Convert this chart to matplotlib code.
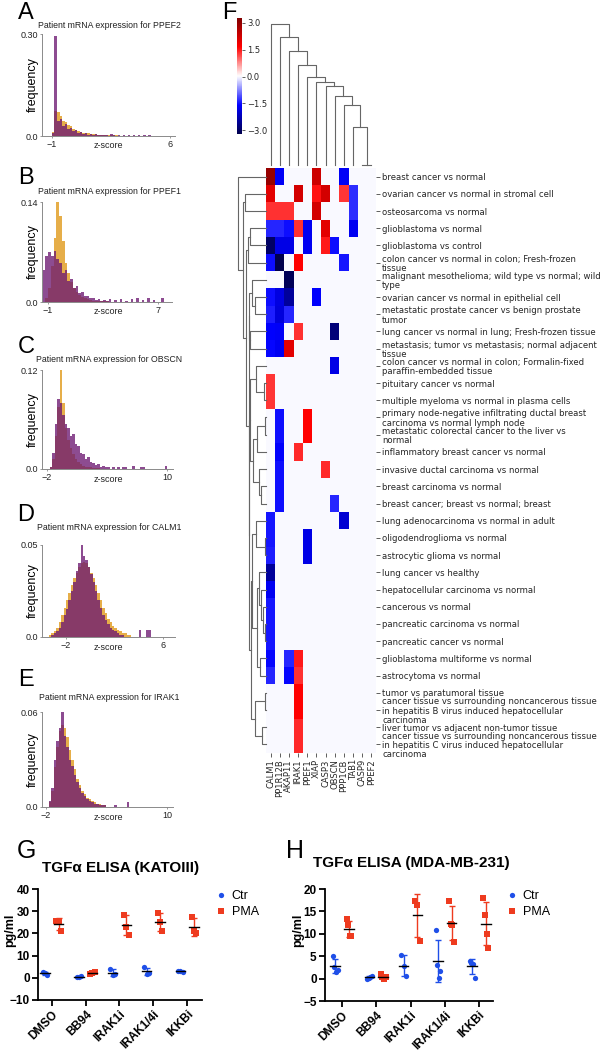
import numpy as np
import matplotlib.pyplot as plt

# ---------------- data ----------------
# A-E: patient mRNA z-score histograms (orange = normal, purple = tumour)
ppef2_start, ppef2_width = -1.0, 0.15
ppef2_orange = [0.012, 0.075, 0.07, 0.06, 0.045, 0.04, 0.032, 0.028, 0.022, 0.018,
                0.015, 0.012, 0.01, 0.009, 0.008, 0.007, 0.006, 0.005, 0.004, 0.004,
                0.003, 0.003, 0.002, 0.002, 0.002, 0.002, 0.001, 0.001, 0.001, 0.001,
                0.001, 0.001, 0, 0, 0, 0, 0, 0, 0, 0]
ppef2_purple = [0.01, 0.294, 0.045, 0.05, 0.03, 0.035, 0.02, 0.025, 0.015, 0.018,
                0.01, 0.012, 0.006, 0.008, 0.004, 0.005, 0.003, 0.006, 0.002, 0.003,
                0.004, 0.002, 0, 0.005, 0.003, 0, 0.002, 0, 0.004, 0,
                0.002, 0, 0.003, 0, 0.002, 0, 0.003, 0, 0.002, 0]

ppef1_start, ppef1_width = -1.4, 0.2
ppef1_orange = [0, 0.005, 0.02, 0.05, 0.09, 0.14, 0.12, 0.085, 0.055, 0.04,
                0.028, 0.02, 0.014, 0.01, 0.007, 0.005, 0.004, 0.003, 0.002, 0.002,
                0.001, 0.001, 0.001, 0.001, 0, 0, 0, 0, 0, 0,
                0, 0, 0, 0, 0, 0, 0, 0, 0, 0, 0, 0, 0, 0, 0]
ppef1_purple = [0.045, 0.065, 0.07, 0.065, 0.072, 0.06, 0.055, 0.04, 0.045, 0.03,
                0.032, 0.02, 0.022, 0.012, 0.014, 0.008, 0.009, 0.005, 0.006, 0.003,
                0.004, 0.002, 0.003, 0.002, 0.004, 0, 0.003, 0, 0.004, 0,
                0.002, 0, 0.004, 0, 0.005, 0, 0.003, 0, 0.006, 0, 0.003, 0, 0, 0.005, 0]

obscn_start, obscn_width = -2.0, 0.25
obscn_orange = [0, 0.003, 0.012, 0.04, 0.075, 0.12, 0.08, 0.05, 0.035, 0.025,
                0.018, 0.012, 0.008, 0.006, 0.004, 0.003, 0.002, 0.002, 0.001, 0.001,
                0.001, 0, 0, 0, 0, 0, 0, 0, 0, 0,
                0, 0, 0, 0, 0, 0, 0, 0, 0, 0, 0, 0, 0, 0, 0, 0, 0, 0]
obscn_purple = [0, 0.002, 0.02, 0.055, 0.085, 0.08, 0.065, 0.055, 0.05, 0.04,
                0.042, 0.03, 0.028, 0.02, 0.018, 0.012, 0.014, 0.008, 0.007, 0.005,
                0.006, 0.003, 0.004, 0.002, 0.003, 0, 0.002, 0, 0.002, 0,
                0.002, 0.002, 0, 0, 0.004, 0, 0, 0.003, 0.002, 0,
                0, 0, 0, 0, 0, 0, 0, 0.004]

calm1_start, calm1_width = -3.4, 0.2
calm1_orange = [0.001, 0.002, 0.003, 0.005, 0.008, 0.012, 0.016, 0.02, 0.024, 0.028,
                0.032, 0.035, 0.038, 0.04, 0.041, 0.04, 0.038, 0.035, 0.032, 0.028,
                0.024, 0.02, 0.016, 0.013, 0.01, 0.008, 0.006, 0.005, 0.004, 0.003,
                0.002, 0.002, 0.001, 0.001, 0, 0, 0, 0, 0, 0, 0, 0, 0, 0, 0]
calm1_purple = [0, 0.001, 0.002, 0.003, 0.005, 0.008, 0.012, 0.015, 0.02, 0.025,
                0.03, 0.036, 0.04, 0.05, 0.044, 0.042, 0.038, 0.034, 0.03, 0.025,
                0.02, 0.016, 0.012, 0.009, 0.007, 0.005, 0.004, 0.003, 0.002, 0.001,
                0.001, 0, 0, 0, 0, 0, 0, 0.004, 0, 0, 0.004, 0.004, 0, 0, 0]

irak1_start, irak1_width = -2.0, 0.25
irak1_orange = [0, 0.003, 0.01, 0.025, 0.038, 0.048, 0.052, 0.05, 0.044, 0.036,
                0.03, 0.024, 0.018, 0.014, 0.01, 0.008, 0.006, 0.005, 0.004, 0.003,
                0.002, 0.002, 0.001, 0.001, 0, 0, 0, 0, 0, 0,
                0, 0, 0, 0, 0, 0, 0, 0, 0, 0]
irak1_purple = [0, 0.004, 0.012, 0.03, 0.042, 0.05, 0.061, 0.045, 0.038, 0.03,
                0.026, 0.02, 0.016, 0.012, 0.009, 0.007, 0.005, 0.004, 0.003, 0.002,
                0.002, 0.001, 0.001, 0.001, 0, 0, 0, 0.001, 0, 0,
                0, 0, 0.003, 0, 0, 0, 0, 0, 0, 0]

# F: heatmap
genes = ['CALM1', 'PP1R12B', 'AKAP11', 'IRAK1', 'PPEF1', 'XIAP', 'CASP3',
         'OBSCN', 'PPP1CB', 'TAB1', 'CASP9', 'PPEF2']
comparisons = [
    'breast cancer vs normal',
    'ovarian cancer vs normal in stromal cell',
    'osteosarcoma vs normal',
    'glioblastoma vs normal',
    'glioblastoma vs control',
    'colon cancer vs normal in colon; Fresh-frozen\ntissue',
    'malignant mesothelioma; wild type vs normal; wild\ntype',
    'ovarian cancer vs normal in epithelial cell',
    'metastatic prostate cancer vs benign prostate\ntumor',
    'lung cancer vs normal in lung; Fresh-frozen tissue',
    'metastasis; tumor vs metastasis; normal adjacent\ntissue',
    'colon cancer vs normal in colon; Formalin-fixed\nparaffin-embedded tissue',
    'pituitary cancer vs normal',
    'multiple myeloma vs normal in plasma cells',
    'primary node-negative infiltrating ductal breast\ncarcinoma vs normal lymph node',
    'metastatic colorectal cancer to the liver vs\nnormal',
    'inflammatory breast cancer vs normal',
    'invasive ductal carcinoma vs normal',
    'breast carcinoma vs normal',
    'breast cancer; breast vs normal; breast',
    'lung adenocarcinoma vs normal in adult',
    'oligodendroglioma vs normal',
    'astrocytic glioma vs normal',
    'lung cancer vs healthy',
    'hepatocellular carcinoma vs normal',
    'cancerous vs normal',
    'pancreatic carcinoma vs normal',
    'pancreatic cancer vs normal',
    'glioblastoma multiforme vs normal',
    'astrocytoma vs normal',
    'tumor vs paratumoral tissue',
    'cancer tissue vs surrounding noncancerous tissue\nin hepatitis B virus induced hepatocellular\ncarcinoma',
    'liver tumor vs adjacent non-tumor tissue',
    'cancer tissue vs surrounding noncancerous tissue\nin hepatitis C virus induced hepatocellular\ncarcinoma',
]
zscores = [
    [3.0, -1.65, 0, 0, 0, 2.3, 0, 0, -1.65, 0, 0, 0],
    [2.0, 0, 0, 2.2, 0, 1.55, 2.2, 0, 1.3, -1.3, 0, 0],
    [1.35, 1.35, 1.35, 0, 0, 2.2, 0, 0, 0, -1.3, 0, 0],
    [-1.35, -1.35, -1.5, 1.35, -1.7, 0, 2.0, 0, 0, -1.7, 0, 0],
    [-3.0, -1.8, -1.8, 0, -1.7, 0, 1.5, -1.5, 0, 0, 0, 0],
    [-1.5, -3.2, 0, 1.65, 0, 0, 0, 0, -1.45, 0, 0, 0],
    [0, 0, -3.1, 0, 0, 0, 0, 0, 0, 0, 0, 0],
    [-1.5, -1.85, -2.5, 0, 0, -1.6, 0, 0, 0, 0, 0, 0],
    [-1.4, -1.9, -1.35, 0, 0, 0, 0, 0, 0, 0, 0, 0],
    [-1.6, -1.65, 0, 1.35, 0, 0, 0, -2.8, 0, 0, 0, 0],
    [-1.55, -1.7, 2.0, 0, 0, 0, 0, 0, 0, 0, 0, 0],
    [0, 0, 0, 0, 0, 0, 0, -1.8, 0, 0, 0, 0],
    [1.3, 0, 0, 0, 0, 0, 0, 0, 0, 0, 0, 0],
    [1.3, 0, 0, 0, 0, 0, 0, 0, 0, 0, 0, 0],
    [0, -1.5, 0, 0, 1.65, 0, 0, 0, 0, 0, 0, 0],
    [0, -1.5, 0, 0, 1.65, 0, 0, 0, 0, 0, 0, 0],
    [0, -1.6, 0, 1.4, 0, 0, 0, 0, 0, 0, 0, 0],
    [0, -1.5, 0, 0, 0, 0, 1.4, 0, 0, 0, 0, 0],
    [0, -1.5, 0, 0, 0, 0, 0, 0, 0, 0, 0, 0],
    [0, -1.5, 0, 0, 0, 0, 0, -1.35, 0, 0, 0, 0],
    [-1.45, 0, 0, 0, 0, 0, 0, 0, -2.0, 0, 0, 0],
    [-1.45, 0, 0, 0, -1.8, 0, 0, 0, 0, 0, 0, 0],
    [-1.4, 0, 0, 0, -1.8, 0, 0, 0, 0, 0, 0, 0],
    [-2.5, 0, 0, 0, 0, 0, 0, 0, 0, 0, 0, 0],
    [-1.7, 0, 0, 0, 0, 0, 0, 0, 0, 0, 0, 0],
    [-1.45, 0, 0, 0, 0, 0, 0, 0, 0, 0, 0, 0],
    [-1.45, 0, 0, 0, 0, 0, 0, 0, 0, 0, 0, 0],
    [-1.45, 0, 0, 0, 0, 0, 0, 0, 0, 0, 0, 0],
    [-1.55, 0, -1.35, 1.5, 0, 0, 0, 0, 0, 0, 0, 0],
    [-1.35, 0, -1.55, 1.35, 0, 0, 0, 0, 0, 0, 0, 0],
    [0, 0, 0, 1.65, 0, 0, 0, 0, 0, 0, 0, 0],
    [0, 0, 0, 1.65, 0, 0, 0, 0, 0, 0, 0, 0],
    [0, 0, 0, 1.4, 0, 0, 0, 0, 0, 0, 0, 0],
    [0, 0, 0, 1.4, 0, 0, 0, 0, 0, 0, 0, 0],
]
# dendrograms as nested (height, left, right); ints are leaf indices
gene_tree = (140.7, 0, (127.3, 1, (113.3, 2, (100, 3, (87.7, 4, (82.7, 5, (79, 6,
             (69.3, 7, (60, 8, (38.3, 9, (0, 10, 11)))))))))))
row_tree = (27.7, 0,
            (22.7, (21, 1, 2),
             (19.3, (17.7, (16, 3, 4), 5),
              (17.2, (16.5, (14.3, 6, (11, 7, 8)), (16, 9, 10)),
               (16.8, (15.5, (10, 11, (2, 12, 13)),
                       (12.5, (9, (0.5, 14, 15), 16), (7, 17, (5, 18, 19)))),
                (15.0, (13.5, (10, 20, (0.5, 21, 22)),
                        (9, (7, 23, (5, 24, (3, 25, (0.5, 26, 27)))), (6, 28, 29))),
                 (11, (0.5, 30, 31), (4, 32, 33))))))))

# G/H: TGFa ELISA (pg/ml)
treatments = ['DMSO', 'BB94', 'IRAK1i', 'IRAK1/4i', 'IKKBi']
kato_ctr = [[2.6, 2.1, 1.4], [0.2, 0.5, 0.8], [4.0, 1.2, 1.5], [4.8, 1.8, 2.0], [3.0, 3.0, 2.8]]
kato_pma = [[25.6, 25.6, 21.0], [1.8, 2.2, 2.8], [28.5, 23.0, 19.5], [29.0, 25.0, 21.0], [27.6, 21.0, 20.2]]
mda_ctr = [[5.0, 2.5, 1.5, 2.0], [0.0, 0.2, 0.4, 0.6], [5.2, 2.8, 0.5], [10.8, 3.0, 0.2, 1.8], [4.0, 3.5, 3.2, 0.2]]
mda_pma = [[13.2, 12.0, 9.5, 9.5], [1.0, 0.3, 0.0, 0.3], [17.3, 16.5, 8.5], [17.4, 12.2, 11.9, 8.1], [18.0, 14.1, 10.0, 6.9]]

# ---------------- figure ----------------
W, H = 608, 1050
fig = plt.figure(figsize=(W / 100, H / 100), dpi=100)
helv = 'Liberation Sans'


def box(l, r, t, b):
    return [l / W, 1 - b / H, (r - l) / W, (b - t) / H]


def ftext(x, y, s, **kw):
    return fig.text(x / W, 1 - y / H, s, **kw)


orange, purple = '#e4a535', '#6d1a72'
hists = [
    ('A', 'PPEF2', ppef2_orange, ppef2_purple, ppef2_start, ppef2_width, (-1.59, 6.3), [-1, 6], 0.30, '0.30', (42, 175, 34, 136), 13, 25),
    ('B', 'PPEF1', ppef1_orange, ppef1_purple, ppef1_start, ppef1_width, (-1.44, 8.0), [-1, 7], 0.14, '0.14', (42, 172, 202, 302), 178, 192),
    ('C', 'OBSCN', obscn_orange, obscn_purple, obscn_start, obscn_width, (-2.5, 10.6), [-2, 10], 0.12, '0.12', (42, 173, 370, 469), 347, 360),
    ('D', 'CALM1', calm1_orange, calm1_purple, calm1_start, calm1_width, (-3.98, 7.0), [-2, 6], 0.05, '0.05', (42, 175, 545, 637), 515, 528),
    ('E', 'IRAK1', irak1_orange, irak1_purple, irak1_start, irak1_width, (-2.4, 10.6), [-2, 10], 0.06, '0.06', (42, 173, 712, 807), 680, 697),
]
for letter, gene, o, p, x0, w, xl, xt, ytop, ylab, bx, ly, ty in hists:
    ax = fig.add_axes(box(*bx))
    edges = x0 + w * np.arange(len(o))
    ax.bar(edges, o, width=w, align='edge', color=orange, alpha=0.9, linewidth=0)
    ax.bar(edges, p, width=w, align='edge', color=purple, alpha=0.78, linewidth=0)
    ax.set_xlim(*xl)
    ax.set_ylim(0, ytop)
    ax.set_xticks(xt)
    ax.set_yticks([0, ytop])
    ax.set_yticklabels(['0.0', ylab])
    for s in ('top', 'right'):
        ax.spines[s].set_visible(False)
    for s in ('left', 'bottom'):
        ax.spines[s].set_color('#8a8a8a')
        ax.spines[s].set_linewidth(0.7)
    ax.tick_params(labelsize=6.5, length=1.5, width=0.6, pad=1.5, colors='#8a8a8a', labelcolor='#222222')
    for t in ax.get_xticklabels() + ax.get_yticklabels():
        t.set_fontfamily(helv)
    ftext(26, ly, letter, fontsize=17, family=helv, ha='center', va='center')
    ftext(109, ty, 'Patient mRNA expression for ' + gene, fontsize=6.3, family=helv, ha='center', va='center', color='#222222')
    ftext(33, (bx[2] + bx[3]) / 2, 'frequency', fontsize=9, family=helv, rotation=90, ha='center', va='center')
    ftext(108, bx[3] + 10, 'z-score', fontsize=6.5, family=helv, ha='center', va='center', color='#222222')


# ---- F: clustered heatmap ----
def dendro(node, segs):
    if isinstance(node, int):
        return node + 0.5, 0.0
    h, a, b = node
    pa, ha = dendro(a, segs)
    pb, hb = dendro(b, segs)
    segs.append(([pa, pa, pb, pb], [ha, h, h, hb]))
    return (pa + pb) / 2, h


mat = np.array(zscores)
vmin, vmax = -3.22, 3.28
axh = fig.add_axes(box(266, 376, 168, 753))
mesh = axh.pcolormesh(np.arange(len(genes) + 1), np.arange(len(comparisons) + 1), mat,
                      cmap='seismic', vmin=vmin, vmax=vmax)
axh.set_xlim(0, len(genes))
axh.set_ylim(len(comparisons), 0)
for s in axh.spines.values():
    s.set_visible(False)
axh.yaxis.tick_right()
axh.set_yticks(np.arange(len(comparisons)) + 0.5)
axh.set_yticklabels(comparisons, fontsize=6.1, color='#262626', family='DejaVu Sans', linespacing=1.05)
axh.set_xticks(np.arange(len(genes)) + 0.5)
axh.set_xticklabels(genes, fontsize=6, color='#262626', rotation=90, family='DejaVu Sans')
axh.tick_params(length=3, width=0.6, color='#444444', pad=1.5)

axc = fig.add_axes(box(266, 376, 24, 165))
segs = []
dendro(gene_tree, segs)
for xs, ys in segs:
    axc.plot(xs, ys, color='#666666', lw=0.8, clip_on=False)
axc.set_xlim(0, len(genes))
axc.set_ylim(0, gene_tree[0])
axc.axis('off')

axr = fig.add_axes(box(238, 266, 168, 753))
segs = []
dendro(row_tree, segs)
for ys, xs in segs:
    axr.plot(xs, ys, color='#666666', lw=0.8, clip_on=False)
axr.set_xlim(row_tree[0], 0)
axr.set_ylim(len(comparisons), 0)
axr.axis('off')

cax = fig.add_axes(box(237, 242, 18, 134))
cb = fig.colorbar(mesh, cax=cax, ticks=[-3, -1.5, 0, 1.5, 3])
cb.ax.set_yticklabels(['\u22123.0', '\u22121.5', '0.0', '1.5', '3.0'])
cb.outline.set_visible(False)
cb.ax.tick_params(labelsize=6, length=2, width=0.5, pad=1.5, colors='#262626')
ftext(229, 13, 'F', fontsize=17, family=helv, ha='center', va='center')

# ---- G / H: ELISA dot plots ----
blue, red = '#1f4fe8', '#ee3b1f'


def elisa(bx, ctr, pma, ylim, yticks, xlim, title, tx, ty, letter, lx, ylx, leg):
    ax = fig.add_axes(box(*bx))
    for i in range(len(treatments)):
        for vals, off, col, mk, lab in ((ctr[i], -0.2, blue, 'o', 'Ctr'), (pma[i], 0.2, red, 's', 'PMA')):
            x0 = i + off
            xs = x0 + np.linspace(-0.07, 0.07, len(vals))
            ax.plot(xs, vals, mk, color=col, ms=3.8, mew=0, label=lab if i == 0 else None, zorder=3)
            m, s = np.mean(vals), np.std(vals, ddof=1)
            ax.errorbar(x0, m, yerr=s, color=col, capsize=2.2, elinewidth=1, capthick=1, zorder=2)
            ax.plot([x0 - 0.14, x0 + 0.14], [m, m], color='k', lw=1, zorder=4)
    ax.set_xlim(*xlim)
    ax.set_ylim(*ylim)
    ax.set_yticks(yticks)
    ax.set_xticks(range(len(treatments)))
    ax.set_xticklabels(treatments, rotation=45, ha='right', rotation_mode='anchor')
    for s in ('top', 'right'):
        ax.spines[s].set_visible(False)
    for s in ('left', 'bottom'):
        ax.spines[s].set_linewidth(1.3)
    ax.tick_params(length=4, width=1.3, labelsize=8.5, pad=2)
    for t in ax.get_xticklabels() + ax.get_yticklabels():
        t.set_fontfamily(helv)
        t.set_fontweight('bold')
    ftext(tx, ty, title, fontsize=11, family=helv, weight='bold', ha='left', va='center')
    ftext(lx, 851, letter, fontsize=18, family=helv, ha='center', va='center')
    ftext(ylx, 930, 'pg/ml', fontsize=9, family=helv, weight='bold', rotation=90, ha='center', va='center')
    ax.legend(loc='upper left', bbox_to_anchor=(leg[0] / W, 1 - leg[1] / H), bbox_transform=fig.transFigure,
              frameon=False, prop={'family': helv, 'size': 9}, handletextpad=0.3, labelspacing=0.35,
              handlelength=1.2, borderpad=0, borderaxespad=0)


elisa((38, 202, 889, 1000), kato_ctr, kato_pma, (-10, 40), [-10, 0, 10, 20, 30, 40], (-0.41, 4.44),
      'TGF\u03b1 ELISA (KATOIII)', 42, 868, 'G', 26, 10, (213, 890))
elisa((325, 493, 889, 1001), mda_ctr, mda_pma, (-5, 20), [-5, 0, 5, 10, 15, 20], (-0.5, 4.41),
      'TGF\u03b1 ELISA (MDA-MB-231)', 313, 863, 'H', 295, 298, (504, 890))

fig.savefig('out.png', dpi=100)
